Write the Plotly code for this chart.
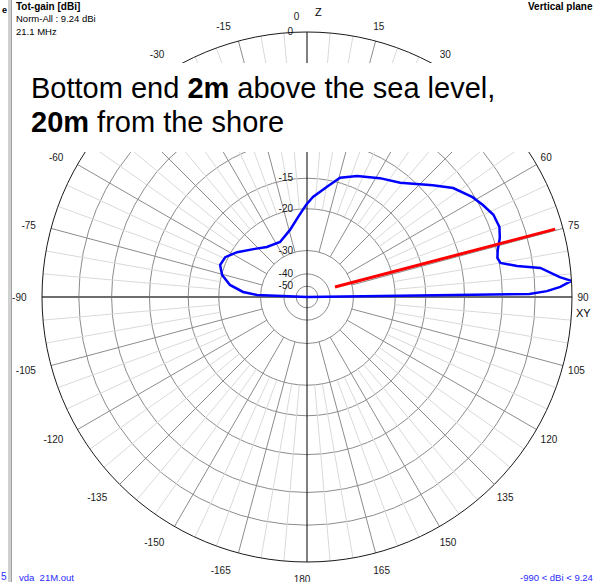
import numpy as np
import plotly.graph_objects as go

# ---------------- data ----------------
PATTERN_ANGLE = [-90, -87.7, -85.5, -81.1, -75.5, -69.8, -64.0, -57.3, -47.3, -38.7,
                 -26.1, -14.2, -6.4, -0.6, 3.4, 10.3, 15.5, 22.5, 31.5, 39.2,
                 48.4, 53.3, 58.9, 62.4, 66.2, 70.0, 73.0, 76.2, 78.4, 80.0,
                 81.6, 82.9, 85.5, 86.5, 87.7, 88.6, 89.2, 90]
PATTERN_DB = [-990, -28.9, -25.1, -22.0, -20.1, -19.2, -19.5, -21.0, -23.5, -25.1,
              -25.8, -23.9, -21.5, -19.3, -17.9, -16.0, -14.3, -13.3, -12.2, -11.2,
              -8.8, -7.3, -6.2, -5.7, -5.2, -5.1, -5.4, -5.9, -6.1, -5.9,
              -4.4, -2.4, -0.9, 0.0, -0.9, -2.0, -3.5, -990]

ANTENNA_ANGLE = [70.3, 74.7]
ANTENNA_DB = [-36.5, -0.6]

RING_DB = [0, -3, -6, -10, -15, -20, -30, -40, -50]
RING_LABELS = ["0", "", "", "", "-15", "-20", "-30", "-40", "-50"]

ANGLE_TICKS = list(range(0, 360, 15))
ANGLE_LABELS = ["0\u00a0\u00a0\u00a0\u00a0" if a == 0 else str(a if a <= 180 else a - 360)
                for a in ANGLE_TICKS]

# ---------------- scale (log-type dB scale of the plot) ----------------
A_COEF, B_COEF = 0.049, -0.0003


def scale(db):
    db = np.asarray(db, dtype=float)
    return np.exp(A_COEF * db + B_COEF * db * db)


W, H = 597, 582
CX, CY, R = 307, 297, 265
LABEL_SHIFT_X = -5


def px(x):
    return x / W


def py(y):
    return 1 - y / H


fig = go.Figure()

# spokes: minor every 5 deg from -20 dB ring, major every 15 deg from -30 dB ring
minor_t, minor_r, major_t, major_r = [], [], [], []
for a in range(0, 360, 5):
    if a % 90 == 0:
        continue
    if a % 15 == 0:
        major_t += [a, a, None]
        major_r += [float(scale(-30)), 1.0, None]
    else:
        minor_t += [a, a, None]
        minor_r += [float(scale(-20)), 1.0, None]

fig.add_trace(go.Scatterpolar(theta=minor_t, r=minor_r, mode="lines",
                              line=dict(color="#d9d9d9", width=1), hoverinfo="skip"))
fig.add_trace(go.Scatterpolar(theta=major_t, r=major_r, mode="lines",
                              line=dict(color="#8c8c8c", width=1), hoverinfo="skip"))
# main axes
fig.add_trace(go.Scatterpolar(theta=[90, 90, 270], r=[1.0, 0.0, 1.0], mode="lines",
                              line=dict(color="#6e6e6e", width=2), hoverinfo="skip"))
fig.add_trace(go.Scatterpolar(theta=[0, 0, 180], r=[1.0, 0.0, 1.0], mode="lines",
                              line=dict(color="#000000", width=1), hoverinfo="skip"))

# pattern
fig.add_trace(go.Scatterpolar(theta=PATTERN_ANGLE, r=scale(PATTERN_DB), mode="lines",
                              line=dict(color="#0000ff", width=2.5), hoverinfo="skip"))
# antenna
fig.add_trace(go.Scatterpolar(theta=ANTENNA_ANGLE, r=scale(ANTENNA_DB), mode="lines",
                              line=dict(color="#ff0000", width=3), hoverinfo="skip"))

# empty trace that holds the angular label axis (second polar)
fig.add_trace(go.Scatterpolar(theta=[0], r=[0], mode="markers", marker=dict(opacity=0),
                              subplot="polar2", hoverinfo="skip"))

FONT = "Liberation Sans, Arial, sans-serif"
TRANSPARENT = "rgba(0,0,0,0)"

dom_x = [px(CX - R), px(CX + R)]
dom_y = [py(CY + R), py(CY - R)]
dom_x2 = [px(CX - R + LABEL_SHIFT_X), px(CX + R + LABEL_SHIFT_X)]

fig.update_layout(
    width=W, height=H,
    margin=dict(l=0, r=0, t=0, b=0),
    paper_bgcolor="white",
    showlegend=False,
    polar=dict(
        domain=dict(x=dom_x, y=dom_y),
        bgcolor="white",
        angularaxis=dict(
            rotation=90, direction="clockwise",
            showticklabels=False,
            showgrid=False, ticks="", showline=True,
            linecolor="#1a1a1a", linewidth=1,
        ),
        radialaxis=dict(
            range=[0, 1], angle=90, side="counterclockwise", tickangle=90,
            tickmode="array", tickvals=scale(RING_DB).tolist(), ticktext=RING_LABELS,
            showline=False, ticks="outside", ticklen=10, tickcolor=TRANSPARENT,
            showgrid=True, gridcolor="#8c8c8c", gridwidth=1,
            tickfont=dict(family=FONT, size=10, color="#1a1a1a"),
        ),
    ),
    polar2=dict(
        domain=dict(x=dom_x2, y=dom_y),
        bgcolor=TRANSPARENT,
        angularaxis=dict(
            rotation=90, direction="clockwise",
            tickmode="array", tickvals=ANGLE_TICKS, ticktext=ANGLE_LABELS,
            showgrid=False, showline=False,
            ticks="outside", ticklen=8, tickcolor=TRANSPARENT,
            tickfont=dict(family=FONT, size=10, color="#1a1a1a"),
        ),
        radialaxis=dict(visible=False, range=[0, 1]),
    ),
)

shapes = [
    dict(type="rect", xref="paper", yref="paper", x0=px(8), x1=px(11), y0=0, y1=1,
         fillcolor="#d0d0d0", line=dict(width=0), layer="above"),
    dict(type="line", xref="paper", yref="paper", x0=px(11.5), x1=px(11.5), y0=0, y1=1,
         line=dict(color="#a0a0a0", width=1), layer="above"),
    dict(type="rect", xref="paper", yref="paper", x0=px(12), x1=1.0, y0=py(152), y1=py(63),
         fillcolor="white", line=dict(width=0), layer="above"),
]
fig.update_layout(shapes=shapes)

ann = []


def text(x, y, s, size=10, color="#000000", xanchor="left", yanchor="middle"):
    ann.append(dict(xref="paper", yref="paper", x=px(x), y=py(y), text=s, showarrow=False,
                    xanchor=xanchor, yanchor=yanchor,
                    font=dict(family=FONT, size=size, color=color)))


text(14, 7, "<b>Tot-gain [dBi]</b>", 10)
text(14, 18, "Norm-All : 9.24 dBi", 9.5)
text(14, 31, "21.1 MHz", 9.5)
text(595, 7, "<b>Vertical plane</b>", 10, xanchor="right")
text(0, 10, "<b>e</b>", 9)
text(-1, 576, "5", 10, color="#2a2aff")
text(17, 577, "vda_21M.out", 9.5, color="#2a2aff")
text(595, 577, "-990 < dBi < 9.24", 9.5, color="#2a2aff", xanchor="right")
text(318, 12, "Z", 11, xanchor="center")
text(574, 313, "XY", 11)
text(29, 88, "Bottom end <b>2m</b> above the sea level,", 29)
text(29, 122, "<b>20m</b> from the shore", 29)
fig.update_layout(annotations=ann)

fig.write_html("out.html", config={"displayModeBar": False},
               post_script="document.body.style.margin='0';document.body.style.overflow='hidden';")
